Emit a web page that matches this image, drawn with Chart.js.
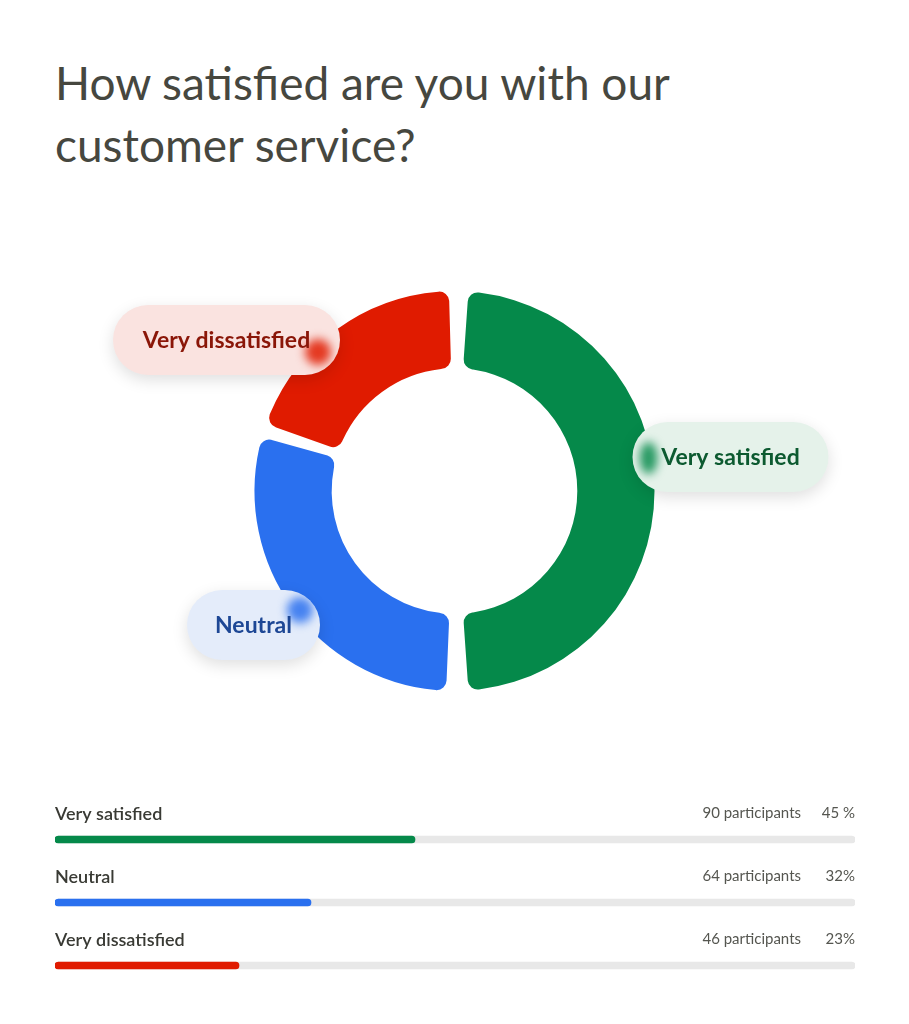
<!DOCTYPE html>
<html>
<head>
<meta charset="utf-8">
<script src="https://cdn.jsdelivr.net/npm/chart.js@4.4.1/dist/chart.umd.min.js"></script>
<style>
  html, body { margin: 0; padding: 0; background: #fff; }
  body { width: 909px; height: 1024px; position: relative; overflow: hidden; }
  h1 {
    position: absolute; left: 55px; top: 52px; margin: 0;
    font: 400 46px/62px Lato, "Open Sans", sans-serif;
    color: #46473f; width: 700px;
  }
  #donutWrap { position: absolute; left: 0; top: 284px; width: 909px; height: 414px; }
  #barsWrap { position: absolute; left: 55px; top: 780px; width: 800px; height: 217px; }
</style>
</head>
<body>
<h1>How satisfied are you with our customer service?</h1>
<div id="donutWrap"><canvas id="donut"></canvas></div>
<div id="barsWrap"><canvas id="bars"></canvas></div>
<script>
const categories = ['Very satisfied', 'Neutral', 'Very dissatisfied'];
const participants = [90, 64, 46];
const percentLabels = ['45 %', '32%', '23%'];
// share of the ring as drawn in the picture
const donutShares = [50, 30, 20];

const mainColors = ['#05894a', '#2a70ef', '#e01b00'];
const pillFills = ['#e5f2ea', '#e4ecfa', '#fae3e0'];
const pillText = ['#0c5a30', '#1d4795', '#8a1608'];
// pill centre relative to the ring centre, and where its glow sits
const pillLayout = [
  { dx: 276, dy: -34, w: 196, gx: 16, gy: 1 },
  { dx: -201, dy: 134, w: 133, gx: -20, gy: -15 },
  { dx: -228, dy: -151, w: 227, gx: -22, gy: 12 }
];

const total = participants.reduce((a, b) => a + b, 0);
const percents = participants.map(v => v / total * 100);

function roundRect(ctx, x, y, w, h, r) {
  ctx.beginPath();
  ctx.moveTo(x + r, y);
  ctx.arcTo(x + w, y, x + w, y + h, r);
  ctx.arcTo(x + w, y + h, x, y + h, r);
  ctx.arcTo(x, y + h, x, y, r);
  ctx.arcTo(x, y, x + w, y, r);
  ctx.closePath();
}

const pillPlugin = {
  id: 'pills',
  afterDatasetsDraw(chart) {
    const ctx = chart.ctx;
    const arcs = chart.getDatasetMeta(0).data;
    arcs.forEach((arc, i) => {
      const lay = pillLayout[i];
      const h = 70;
      const cx = arc.x + lay.dx;
      const cy = arc.y + lay.dy;
      const x = cx - lay.w / 2;
      const y = cy - h / 2;

      ctx.save();
      ctx.shadowColor = 'rgba(0,0,0,0.13)';
      ctx.shadowBlur = 16;
      ctx.shadowOffsetY = 5;
      roundRect(ctx, x, y, lay.w, h, h / 2);
      ctx.fillStyle = pillFills[i];
      ctx.fill();
      ctx.restore();

      ctx.save();
      roundRect(ctx, x, y, lay.w, h, h / 2);
      ctx.clip();
      const gx = lay.gx > 0 ? x + lay.gx : x + lay.w + lay.gx;
      const gy = cy + lay.gy;
      ctx.filter = 'blur(5px)';
      ctx.fillStyle = mainColors[i];
      ctx.globalAlpha = 0.85;
      ctx.beginPath();
      if (lay.gx > 0) ctx.ellipse(gx, gy, 9, 16, 0, 0, Math.PI * 2);
      else ctx.arc(gx, gy, 13, 0, Math.PI * 2);
      ctx.fill();
      ctx.restore();

      ctx.save();
      ctx.font = '700 23px Lato, "Noto Sans", sans-serif';
      ctx.fillStyle = pillText[i];
      ctx.textAlign = 'center';
      ctx.textBaseline = 'middle';
      ctx.fillText(categories[i], cx, cy + 1);
      ctx.restore();
    });
  }
};

new Chart(document.getElementById('donut'), {
  type: 'doughnut',
  data: {
    labels: categories,
    datasets: [{
      data: donutShares,
      backgroundColor: mainColors,
      borderWidth: 0,
      spacing: 14,
      borderRadius: 10,
      hoverOffset: 0
    }]
  },
  options: {
    responsive: true,
    maintainAspectRatio: false,
    animation: false,
    cutout: '60%',
    layout: { padding: 7 },
    plugins: {
      legend: { display: false },
      tooltip: { enabled: false }
    }
  },
  plugins: [pillPlugin]
});

const rowTextPlugin = {
  id: 'rowText',
  afterDatasetsDraw(chart) {
    const ctx = chart.ctx;
    const area = chart.chartArea;
    const bars = chart.getDatasetMeta(0).data;
    bars.forEach((bar, i) => {
      ctx.save();
      ctx.textBaseline = 'middle';
      ctx.font = '600 18px Lato, "Noto Sans", sans-serif';
      ctx.fillStyle = '#393a34';
      ctx.textAlign = 'left';
      ctx.fillText(categories[i], area.left, bar.y - 25);
      ctx.font = '400 15px Lato, "Noto Sans", sans-serif';
      ctx.fillStyle = '#555650';
      ctx.textAlign = 'right';
      ctx.fillText(percentLabels[i], area.right, bar.y - 26);
      ctx.fillText(participants[i] + ' participants', area.right - 54, bar.y - 26);
      ctx.restore();
    });
  }
};

new Chart(document.getElementById('bars'), {
  type: 'bar',
  data: {
    labels: categories,
    datasets: [
      {
        data: percents,
        backgroundColor: mainColors,
        barThickness: 7,
        borderRadius: 4,
        borderSkipped: false,
        grouped: false,
        order: 1
      },
      {
        data: categories.map(() => 100),
        backgroundColor: '#e8e8e8',
        barThickness: 7,
        borderRadius: 4,
        borderSkipped: false,
        grouped: false,
        order: 2
      }
    ]
  },
  options: {
    indexAxis: 'y',
    responsive: true,
    maintainAspectRatio: false,
    animation: false,
    layout: { padding: { top: 28, bottom: 0, left: 0, right: 0 } },
    scales: {
      x: { min: 0, max: 100, display: false },
      y: { display: false }
    },
    plugins: {
      legend: { display: false },
      tooltip: { enabled: false }
    }
  },
  plugins: [rowTextPlugin]
});
</script>
</body>
</html>
